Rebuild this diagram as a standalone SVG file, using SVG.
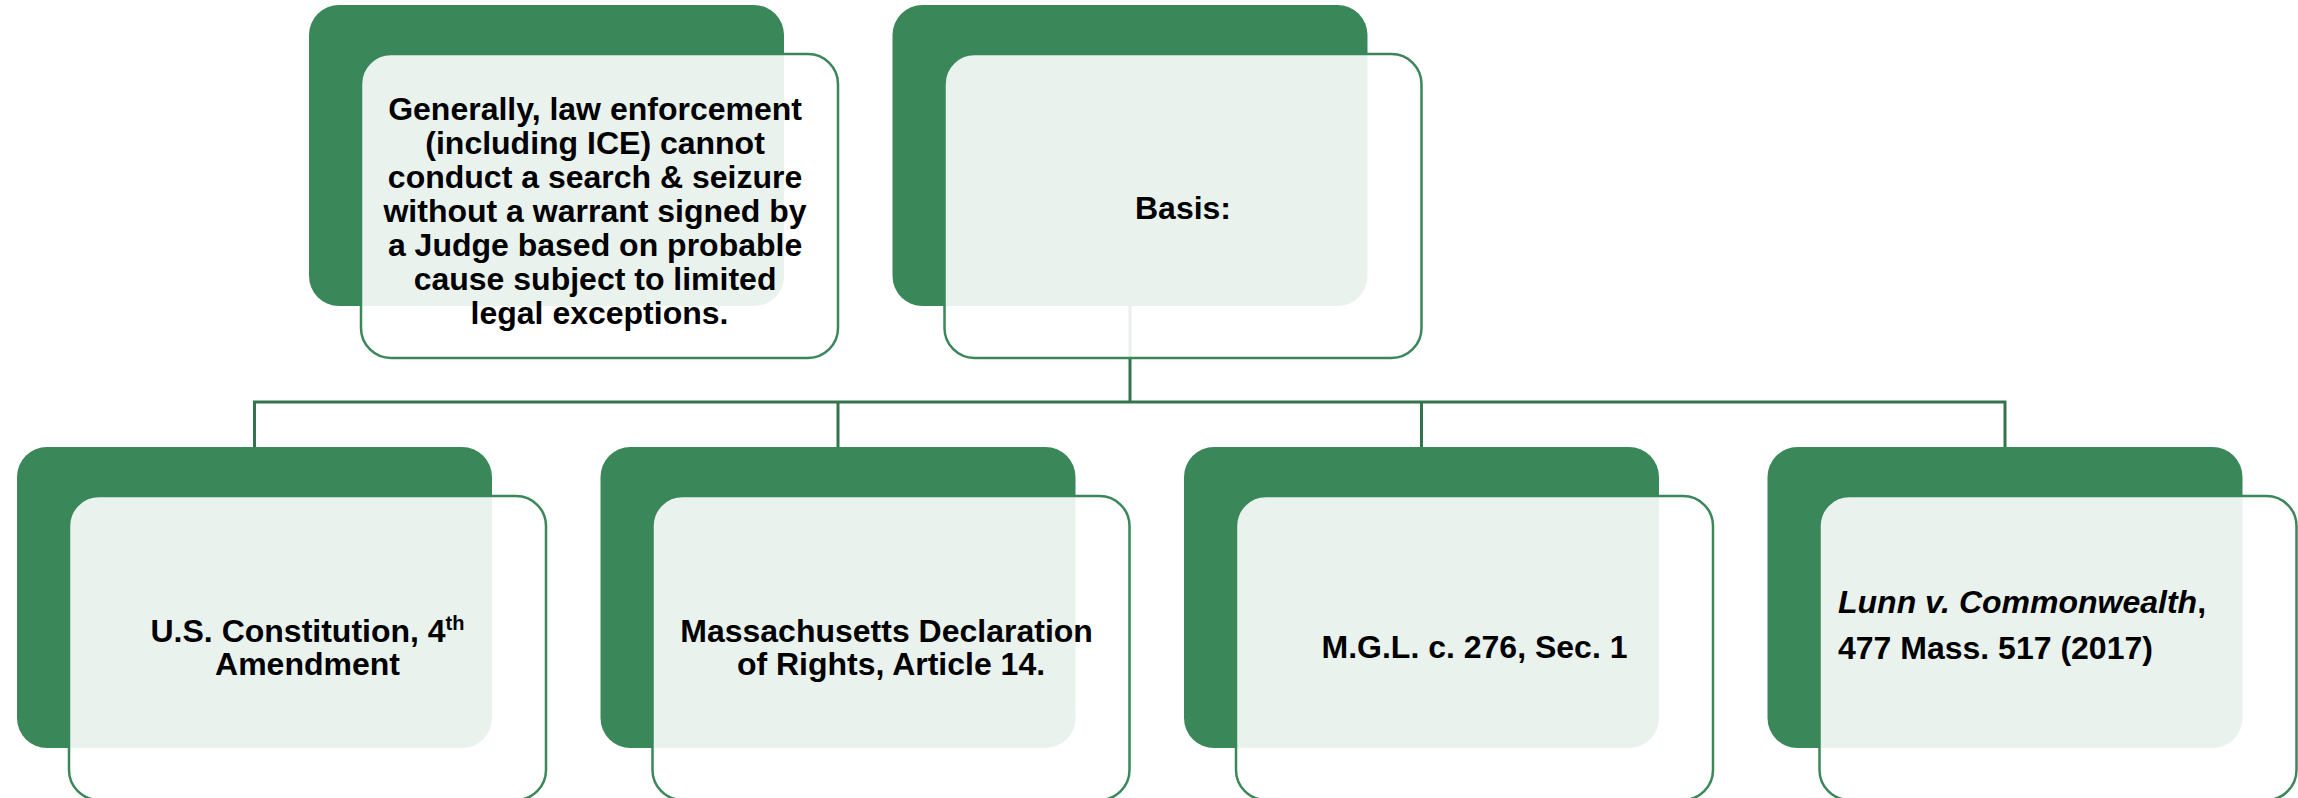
<svg xmlns="http://www.w3.org/2000/svg" width="2298" height="798" viewBox="0 0 2298 798">
<style>
.dark{fill:#3a875a;}
.light{fill:#ffffff;fill-opacity:0.89;stroke:#3a875a;stroke-width:2.5;}
.conn{stroke:#35734e;stroke-width:3;fill:none;}
.t{font-family:"Liberation Sans",Arial,sans-serif;font-weight:bold;font-size:32px;fill:#000;}
.c{text-anchor:middle;}
</style>
<rect width="2298" height="798" fill="#ffffff"/>
<g id="connectors">
<path class="conn" d="M1130,306 V402 M254.5,402 H2005.5 M254.5,400.5 V447 M838,400.5 V447 M1421.5,400.5 V447 M2005,400.5 V447"/>
</g>
<g id="node-general">
<rect class="dark" x="309" y="5" width="475" height="301" rx="30"/>
<rect class="light" x="361" y="54" width="477" height="304" rx="30"/>
<text class="t c" x="599.5" y="120">
<tspan x="599.5" y="120">Generally, law enforcement</tspan>
<tspan x="599.5" y="154">(including ICE) cannot</tspan>
<tspan x="599.5" y="188">conduct a search &amp; seizure</tspan>
<tspan x="599.5" y="222">without a warrant signed by</tspan>
<tspan x="599.5" y="256">a Judge based on probable</tspan>
<tspan x="599.5" y="290">cause subject to limited</tspan>
<tspan x="599.5" y="324">legal exceptions.</tspan>
</text>
</g>
<g id="node-basis">
<rect class="dark" x="892.5" y="5" width="475" height="301" rx="30"/>
<rect class="light" x="944.5" y="54" width="477" height="304" rx="30"/>
<text class="t c" x="1183" y="219">Basis:</text>
</g>
<g id="node-constitution">
<rect class="dark" x="17" y="447" width="475" height="301" rx="30"/>
<rect class="light" x="69" y="496" width="477" height="304" rx="30"/>
<text class="t c" x="307.5" y="642">U.S. Constitution, 4<tspan font-size="20" dy="-12">th</tspan></text>
<text class="t c" x="307.5" y="675">Amendment</text>
</g>
<g id="node-declaration">
<rect class="dark" x="600.5" y="447" width="475" height="301" rx="30"/>
<rect class="light" x="652.5" y="496" width="477" height="304" rx="30"/>
<text class="t c" x="891" y="642">
<tspan x="891" y="642">Massachusetts Declaration</tspan>
<tspan x="891" y="675">of Rights, Article 14.</tspan>
</text>
</g>
<g id="node-mgl">
<rect class="dark" x="1184" y="447" width="475" height="301" rx="30"/>
<rect class="light" x="1236" y="496" width="477" height="304" rx="30"/>
<text class="t c" x="1474.5" y="658">M.G.L. c. 276, Sec. 1</text>
</g>
<g id="node-lunn">
<rect class="dark" x="1767.5" y="447" width="475" height="301" rx="30"/>
<rect class="light" x="1819.5" y="496" width="477" height="304" rx="30"/>
<text class="t" x="1838" y="613"><tspan font-style="italic">Lunn v. Commonwealth</tspan>,</text>
<text class="t" x="1838" y="659">477 Mass. 517 (2017)</text>
</g>
</svg>
